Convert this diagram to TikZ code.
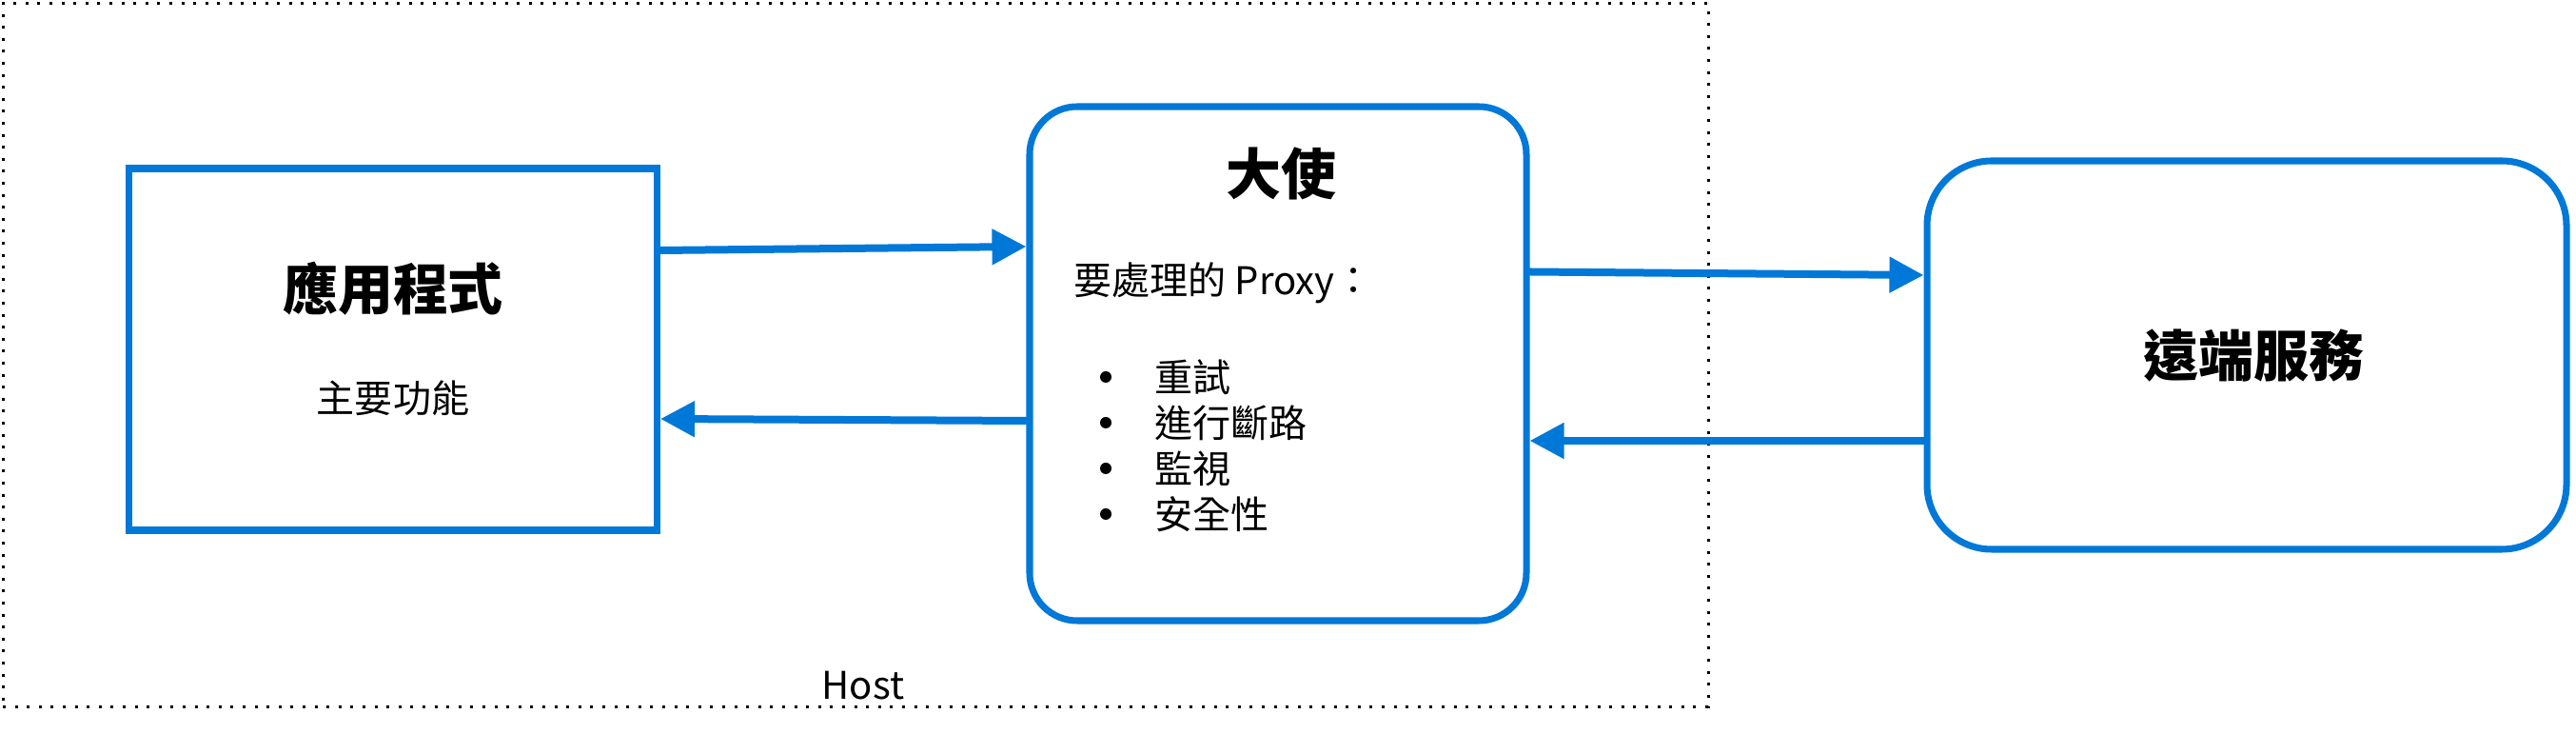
\documentclass[tikz,border=0pt]{standalone}
\usepackage{fontspec}
\setmainfont{Noto Sans CJK TC}
\usetikzlibrary{shapes,arrows.meta}
\definecolor{azure}{HTML}{0078D7}
\tikzset{box/.style={shape=rectangle,draw=azure,align=center,line width=2pt},
link/.style={-{Triangle[length=0.36cm,width=0.36cm]},draw=azure,line width=0.08cm,line cap=round},
big/.style={font=\fontsize{16.5}{20}\selectfont\bfseries},
small/.style={font=\fontsize{11.4}{14}\selectfont}}

\begin{document}
\begin{tikzpicture}
\useasboundingbox (0,0) rectangle (27.07,7.71);
\node[shape=rectangle,draw=black,dash pattern=on 0.03cm off 0.096cm,line width=0.03cm,minimum width=17.92cm,minimum height=7.39cm] (h) at (8.99,3.98) {};
\node[box,minimum width=5.55cm,minimum height=3.80cm] (0) at (4.13,4.04) {};
\node[box,rounded corners=0.5cm,minimum width=5.22cm,minimum height=5.40cm] (1) at (13.43,3.89) {};
\node[box,rounded corners=0.68cm,minimum width=6.72cm,minimum height=4.08cm] (2) at (23.61,3.98) {};

\node[big] (3) at (4.13,4.68) {應用程式};
\node[small] (4) at (4.13,3.53) {主要功能};
\node[big] (5) at (13.46,5.89) {大使};
\node[small,anchor=west] (6) at (11.16,4.74) {要處理的 Proxy：};
\foreach \t [count=\i] in {重試,進行斷路,監視,安全性}{
\fill (11.62,4.23-0.48*\i) circle (0.06);
\node[small,anchor=west] (7\i) at (12.01,4.23-0.48*\i) {\t};
}
\node[big] (8) at (23.68,3.97) {遠端服務};
\node[small] (9) at (9.07,0.51) {Host};

\draw [link] ([yshift=1.04cm]0.east) -- ([yshift=1.23cm]1.west);
\draw [link] ([yshift=-0.60cm]1.west) -- ([yshift=-0.73cm]0.east);
\draw [link] ([yshift=0.965cm]1.east) -- ([yshift=0.84cm]2.west);
\draw [link] ([yshift=-0.90cm]2.west) -- ([yshift=-0.81cm]1.east);
\end{tikzpicture}
\end{document}
